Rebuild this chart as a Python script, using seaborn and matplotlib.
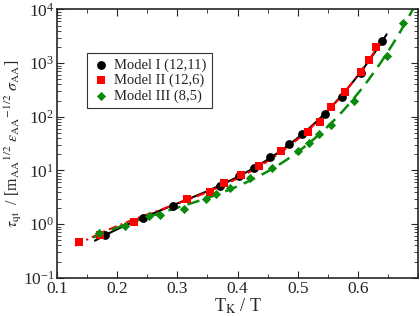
import matplotlib
matplotlib.use('Agg')
import matplotlib.pyplot as plt
import seaborn as sns
import numpy as np
import pandas as pd
from matplotlib.ticker import MultipleLocator, LogLocator, NullFormatter, FixedLocator

# Data
m1_x = [0.180, 0.242, 0.293, 0.371, 0.403, 0.428, 0.454, 0.486, 0.508, 0.545, 0.573, 0.605, 0.640]
m1_y = [0.63, 1.30, 2.20, 5.1, 8.0, 11.3, 17.8, 31, 48, 115, 232, 660, 2630]

m2_x = [0.137, 0.171, 0.228, 0.316, 0.355, 0.377, 0.405, 0.435, 0.473, 0.518, 0.537, 0.556, 0.579, 0.605, 0.618, 0.631]
m2_y = [0.47, 0.64, 1.09, 2.9, 4.0, 5.75, 8.3, 12.0, 23.3, 52, 81, 154, 295, 690, 1120, 2000]

m3_x = [0.170, 0.213, 0.253, 0.271, 0.311, 0.348, 0.364, 0.388, 0.420, 0.458, 0.500, 0.519, 0.536, 0.555, 0.594, 0.649, 0.676]
m3_y = [0.68, 0.93, 1.40, 1.50, 1.90, 3.0, 3.6, 4.8, 7.2, 11.2, 23, 32, 47, 71, 200, 1380, 5700]

labels = ['Model I (12,11)', 'Model II (12,6)', 'Model III (8,5)']
x_ticks = [0.1, 0.2, 0.3, 0.4, 0.5, 0.6]
# x range covered by each fit curve
fit_ranges = [(0.163, 0.648), (0.130, 0.636), (0.160, 0.700)]

sns.set_style('ticks')
plt.rcParams['font.family'] = ['Liberation Serif', 'DejaVu Serif']
plt.rcParams['mathtext.fontset'] = 'stix'

df = pd.concat([
    pd.DataFrame({'x': m1_x, 'y': m1_y, 'model': labels[0]}),
    pd.DataFrame({'x': m2_x, 'y': m2_y, 'model': labels[1]}),
    pd.DataFrame({'x': m3_x, 'y': m3_y, 'model': labels[2]}),
])

colors = {labels[0]: 'black', labels[1]: '#ff0000', labels[2]: '#0a8a0a'}
markers = {labels[0]: 'o', labels[1]: 's', labels[2]: 'D'}
sizes = {labels[0]: 40, labels[1]: 34, labels[2]: 22}
line_styles = {labels[0]: '-', labels[1]: (0, (4, 2, 1, 2)), labels[2]: (0, (5, 3))}
line_widths = {labels[0]: 1.5, labels[1]: 1.5, labels[2]: 1.8}

fig = plt.figure(figsize=(4.2, 3.16), dpi=100)
ax = fig.add_axes([0.136, 0.121, 0.859, 0.849])

# fit curves (cubic in log10 of tau) through each model's points
for lab, (lo, hi) in zip(labels, fit_ranges):
    sub = df[df['model'] == lab]
    coef = np.polyfit(sub['x'], np.log10(sub['y']), 3)
    xs = np.linspace(lo, hi, 200)
    ax.plot(xs, 10 ** np.polyval(coef, xs), color=colors[lab],
            linestyle=line_styles[lab], lw=line_widths[lab], zorder=2)

for lab in labels:
    sub = df[df['model'] == lab]
    sns.scatterplot(data=sub, x='x', y='y', ax=ax, color=colors[lab],
                    marker=markers[lab], s=sizes[lab], linewidth=0,
                    label=lab, zorder=3)

ax.set_yscale('log')
ax.set_xlim(0.1, 0.7)
ax.set_ylim(0.1, 1e4)
ax.xaxis.set_major_locator(FixedLocator(x_ticks))
ax.xaxis.set_minor_locator(MultipleLocator(0.05))
ax.yaxis.set_major_locator(LogLocator(base=10, numticks=10))
ax.yaxis.set_minor_locator(LogLocator(base=10, subs=np.arange(2, 10), numticks=20))
ax.yaxis.set_minor_formatter(NullFormatter())
ax.tick_params(which='both', direction='in', top=True, right=True)
ax.tick_params(which='major', length=5, labelsize=12.5, pad=2)
ax.tick_params(which='minor', length=3)
for sp in ax.spines.values():
    sp.set_linewidth(1.2)

ax.set_xlabel(r'T$_{\rm K}$ / T', fontsize=13, labelpad=0)
ax.set_ylabel(r'$\tau_{\rm qt}$  / [m$_{\rm AA}$$^{1/2}$ $\varepsilon_{\rm AA}$$^{-1/2}$ $\sigma_{\rm AA}$]',
              fontsize=11.5)
ax.yaxis.label.set_verticalalignment('center')
ax.yaxis.set_label_coords(-0.12, 0.5)

leg = ax.legend(loc='upper left', bbox_to_anchor=(0.083, 0.838), borderaxespad=0,
                fontsize=10.5, frameon=True, fancybox=False, handletextpad=0.3,
                borderpad=0.35, labelspacing=0.15, handlelength=1.2)
leg.get_frame().set_edgecolor('black')
leg.get_frame().set_linewidth(0.8)

fig.savefig('out.png', dpi=100)
plt.close(fig)
